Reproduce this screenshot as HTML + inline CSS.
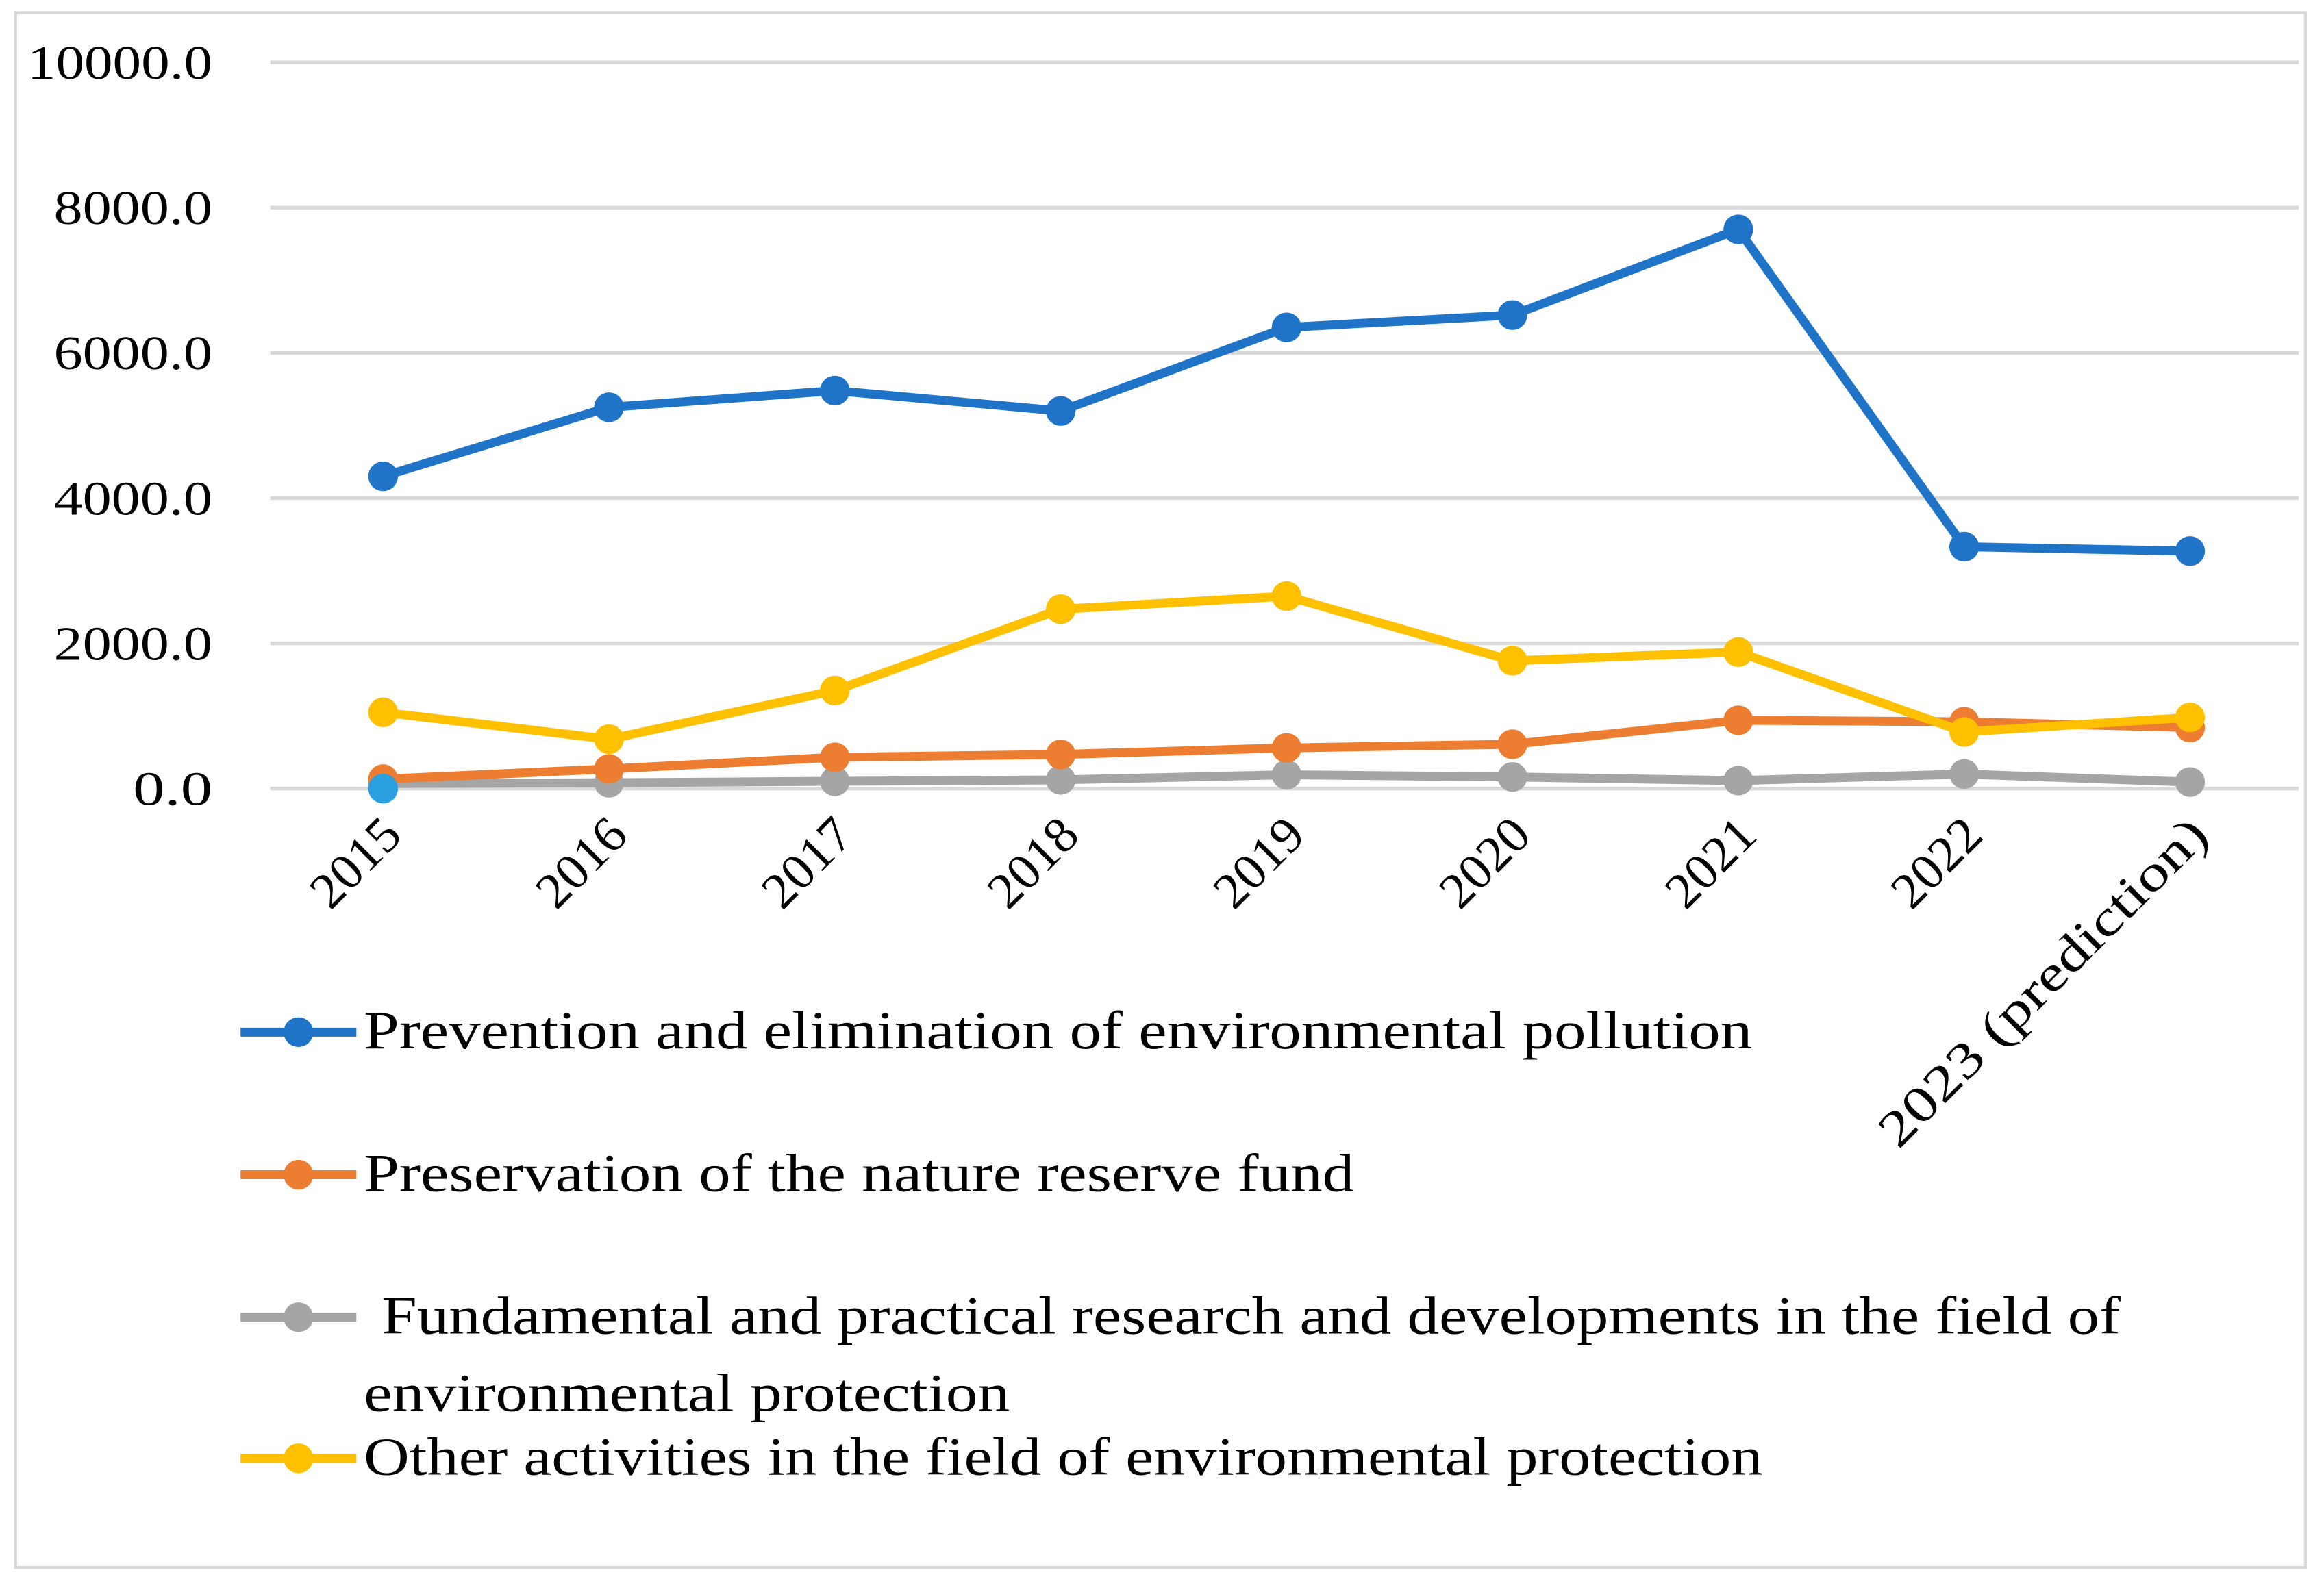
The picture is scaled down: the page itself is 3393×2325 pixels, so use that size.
<!DOCTYPE html>
<html><head><meta charset="utf-8"><style>
html,body{margin:0;padding:0;background:#fff}
svg{display:block}
text{font-family:"Liberation Serif",serif;fill:#000}
</style></head><body>
<svg id="chart" width="3393" height="2325" viewBox="0 0 1565 1072" preserveAspectRatio="none" xmlns="http://www.w3.org/2000/svg">
<rect x="10.5" y="8.5" width="1542" height="1047" fill="#fff" stroke="#d9d9d9" stroke-width="2"/>
<g id="grid"></g><g id="yticks"></g><g id="xticks"></g><g id="series"></g><g id="legend"></g>
</svg>
<script>
const categories=["2015","2016","2017","2018","2019","2020","2021","2022","2023 (prediction)"];
const yTicks=[0,2000,4000,6000,8000,10000];
const pollution=[4300,5250,5480,5200,6350,6520,7700,3330,3270];
const reserve=[130,270,430,470,560,610,940,920,840];
const research=[70,80,100,120,190,160,110,200,90];
const other=[1050,680,1350,2470,2650,1760,1880,780,980];
const seriesNames=["Prevention and elimination of environmental pollution","Preservation of the nature reserve fund","Fundamental and practical research and developments in the field of","Other activities in the field of environmental protection"];
const NS="http://www.w3.org/2000/svg";
const xs=i=>258+i*152.1;
const ys=v=>531-v*(489/10000);
function mk(t,a,p){const e=document.createElementNS(NS,t);for(const k in a)e.setAttribute(k,a[k]);p.appendChild(e);return e;}
const grid=document.getElementById('grid'),yt=document.getElementById('yticks'),xt=document.getElementById('xticks');
yTicks.forEach(v=>{
 const l=mk('line',{x1:182,x2:1548,y1:ys(v),y2:ys(v),stroke:'#d9d9d9','stroke-width':2.5},grid);
 
 
 const s=v.toFixed(1);
 const t=mk('text',{x:143,y:ys(v)+11,'text-anchor':'end','font-size':32,textLength:s.length*17.8,lengthAdjust:'spacingAndGlyphs'},yt);t.textContent=s;
 
 
});
categories.forEach((c,i)=>{
 const x=xs(i)+14,y=564;
 const t=mk('text',{x:x,y:y,'text-anchor':'end','font-size':34,textLength:c.length*17.5,lengthAdjust:'spacingAndGlyphs',transform:`rotate(-45 ${x} ${y})`},xt);t.textContent=c;
 
 
});
const sg=document.getElementById('series');
const all=[[research,'#a5a5a5','research'],[reserve,'#ed7d31','reserve'],[other,'#ffc000','other'],[pollution,'#1f74c8','pollution']];
function draw(d,col,name){
 const g=mk('g',{},sg);
 
 
 const p=mk('polyline',{points:d.map((v,i)=>xs(i)+','+ys(v)).join(' '),fill:'none',stroke:col,'stroke-width':6,'stroke-linejoin':'round'},g);
 
 
 d.forEach((v,i)=>{const c=mk('circle',{cx:xs(i),cy:ys(v),r:10,fill:col},g);
  
  });
}
all.forEach(s=>draw(s[0],s[1],s[2]));
const lb=mk('circle',{cx:xs(0),cy:ys(0),r:10,fill:'#2aa0e0'},sg);


const lg=document.getElementById('legend');
const lcol=['#1f74c8','#ed7d31','#a5a5a5','#ffc000'];
const ly=[695,791,887,982];
const lx=[245,245,257,245];
const lw=[935,667,1171,942];
seriesNames.forEach((n,i)=>{
 const g=mk('g',{},lg);
 
 
 mk('line',{x1:162,x2:240,y1:ly[i],y2:ly[i],stroke:lcol[i],'stroke-width':6},g);
 mk('circle',{cx:201,cy:ly[i],r:10,fill:lcol[i]},g);
 const t=mk('text',{x:lx[i],y:ly[i]+11,'font-size':36,textLength:lw[i],lengthAdjust:'spacingAndGlyphs'},g);t.textContent=n;
 if(i==2){const t2=mk('text',{x:245,y:ly[i]+63,'font-size':36,textLength:435,lengthAdjust:'spacingAndGlyphs'},g);t2.textContent='environmental protection';}
});
</script>
</body></html>
